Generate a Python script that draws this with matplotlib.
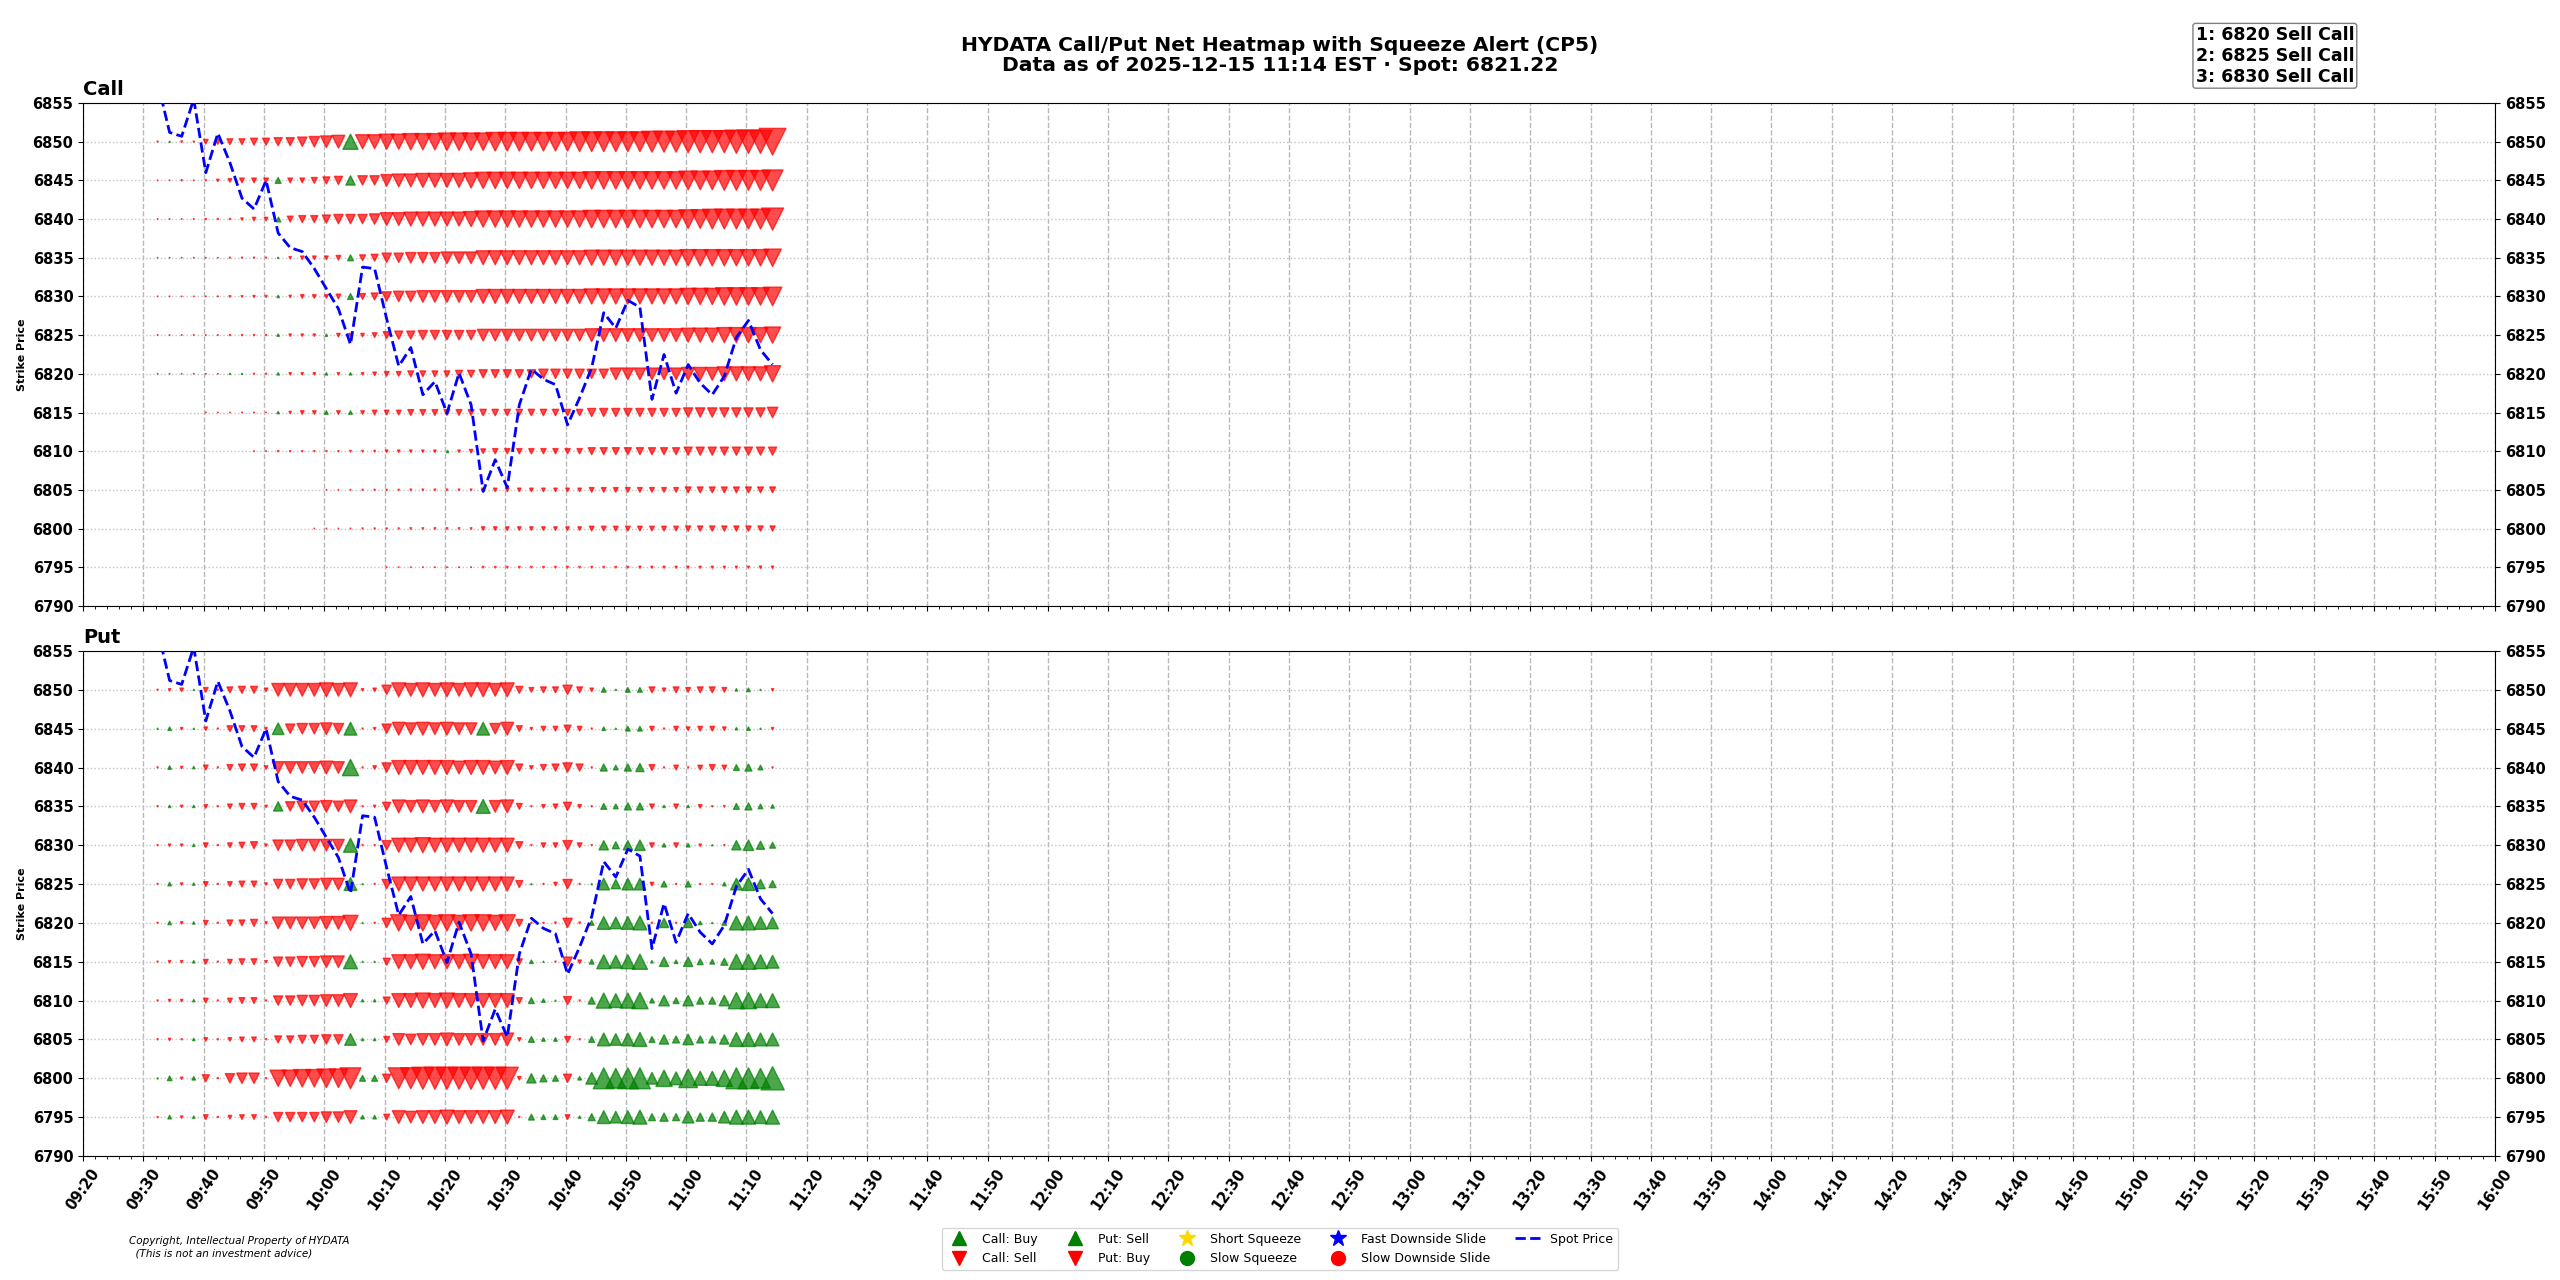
"""
HYDATA call/put net heatmap with spot price
"""
import matplotlib
matplotlib.use('Agg')
import matplotlib.pyplot as plt
import matplotlib.dates as mdates
from matplotlib.lines import Line2D
import numpy as np
import pandas as pd

plt.rcParams['font.family'] = ['DejaVu Sans']
plt.rcParams['font.weight'] = 'bold'

# ---- data -------------------------------------------------------------
times = pd.date_range('2025-12-15 09:32:20', periods=52, freq='2min')
strikes = [6850, 6845, 6840, 6835, 6830, 6825, 6820, 6815, 6810, 6805, 6800, 6795]

spot = [6857.7, 6851.2, 6850.7, 6855.5, 6846.0, 6851.1, 6847.3, 6842.7, 6841.3, 6845.0,
        6838.2, 6836.3, 6835.8, 6833.6, 6831.0, 6828.4, 6823.8, 6833.8, 6833.6, 6827.1,
        6821.0, 6823.4, 6817.3, 6819.0, 6814.9, 6820.1, 6816.0, 6804.8, 6808.9, 6805.3,
        6816.0, 6820.6, 6819.3, 6818.6, 6813.4, 6816.9, 6820.8, 6827.9, 6825.9, 6829.5,
        6828.6, 6816.7, 6822.5, 6817.5, 6821.2, 6818.8, 6817.3, 6819.7, 6824.7, 6826.9,
        6823.1, 6821.2]

# net flow per strike (positive = green up, negative = red down)
call_net = [
    [-1, 1, -2, -1, -16, -20, -25, -25, -36, -36, -49, -49, -64, -81, -100, -121, 169, -144, -144, -169,
     -169, -196, -196, -196, -225, -225, -225, -225, -256, -256, -256, -256, -256, -256, -256, -289, -289, -289, -289, -289,
     -289, -324, -324, -324, -361, -361, -361, -361, -400, -400, -400, -529],
    [-0.3, -0.3, -1, -0.3, -1, -4, -9, -16, -16, -16, 25, -16, -16, -25, -36, -49, 64, -64, -64, -100,
     -121, -121, -144, -144, -144, -144, -169, -196, -196, -196, -196, -196, -196, -196, -196, -196, -225, -225, -225, -225,
     -225, -225, -225, -225, -256, -256, -256, -289, -289, -289, -289, -324],
    [-0.3, -0.3, -0.3, -0.3, -1, -1, -1, -4, -9, -9, 16, -25, -36, -36, -49, -64, -64, -64, -81, -121,
     -121, -144, -144, -144, -144, -144, -169, -196, -196, -196, -196, -196, -196, -196, -196, -196, -225, -225, -225, -225,
     -225, -225, -225, -225, -256, -256, -289, -289, -289, -289, -289, -361],
    [-0.3, -0.3, -0.3, -0.3, -0.3, -0.3, -1, -1, -1, -1, 1, -4, -9, -9, -9, -16, 25, -25, -36, -64,
     -64, -81, -81, -81, -100, -100, -100, -144, -144, -144, -144, -144, -144, -144, -144, -144, -169, -169, -169, -169,
     -169, -169, -169, -169, -196, -196, -196, -196, -196, -196, -196, -225],
    [-0.3, -0.3, -0.3, -0.3, -0.3, -0.5, -2, -2, -3, -3, 4, -4, -9, -9, -9, -16, 25, -25, -36, -64,
     -81, -81, -100, -100, -100, -100, -100, -144, -144, -144, -144, -144, -144, -144, -144, -144, -169, -169, -169, -169,
     -169, -169, -169, -169, -196, -196, -196, -225, -225, -225, -225, -256],
    [-0.3, -0.3, -0.3, -0.3, -0.3, -0.3, -1, -1, -1, -1, 4, -4, -4, -4, 4, -9, -9, -9, -16, -36,
     -49, -49, -64, -64, -64, -64, -64, -100, -100, -100, -100, -100, -100, -100, -100, -100, -121, -121, -121, -121,
     -121, -121, -121, -121, -144, -144, -144, -169, -169, -169, -169, -196],
    [-0.3, -0.3, -0.3, -0.3, -0.3, -0.3, 1, 1, -1, -1, 4, -4, -4, -4, 4, -4, 4, -4, -9, -16,
     -16, -25, -25, -25, -25, -36, -36, -49, -49, -49, -49, -49, -64, -64, -64, -64, -64, -64, -100, -100,
     -100, -100, -100, -100, -121, -121, -121, -144, -144, -144, -144, -196],
    [0, 0, 0, 0, -0.3, -0.3, -0.3, -0.3, -0.3, -0.3, 4, -4, -9, -9, 9, -9, 9, -9, -16, -16,
     -16, -25, -25, -25, -25, -25, -25, -30, -30, -30, -30, -30, -30, -30, -30, -30, -49, -49, -49, -49,
     -49, -49, -49, -49, -64, -64, -64, -64, -64, -64, -64, -81],
    [0, 0, 0, 0, 0, 0, 0, 0, -0.3, -0.3, -1, -1, -1, -1, -1, -1, -2, -2, -2, -4,
     -4, -4, -4, -4, 4, -4, -9, -16, -20, -20, -20, -20, -20, -20, -20, -20, -36, -36, -36, -36,
     -36, -36, -36, -36, -49, -49, -49, -49, -49, -49, -49, -49],
    [0, 0, 0, 0, 0, 0, 0, 0, 0, 0, 0, 0, 0, 0, -0.3, -0.3, -0.5, -1, -1, -1,
     -1, -2, -2, -2, -2, -2, -2, -9, -9, -9, -9, -9, -9, -9, -9, -9, -16, -16, -16, -16,
     -16, -16, -16, -16, -25, -25, -25, -25, -25, -25, -25, -25],
    [0, 0, 0, 0, 0, 0, 0, 0, 0, 0, 0, 0, 0, -0.3, -0.3, -0.3, -0.5, -1, -1, -1,
     -1, -2, -2, -2, -2, -2, -2, -9, -9, -9, -9, -9, -9, -9, -9, -9, -16, -16, -16, -16,
     -16, -16, -16, -16, -20, -20, -20, -20, -20, -20, -20, -20],
    [0, 0, 0, 0, 0, 0, 0, 0, 0, 0, 0, 0, 0, 0, 0, 0, 0, 0, 0, -0.3,
     -0.3, -0.3, -0.3, -0.3, -0.3, -0.3, -0.3, -2, -2, -2, -2, -2, -2, -2, -2, -2, -2, -2, -2, -2,
     -3, -3, -3, -3, -3, -3, -3, -3, -3, -3, -4, -4],
]

put_net = [
    [-1, -4, -9, 1, -16, -1, -25, -36, -36, -9, -121, -121, -121, -121, -144, -121, -144, -4, -9, -64,
     -144, -121, -144, -121, -144, -121, -144, -144, -121, -144, -36, -16, -25, -25, -64, -25, -9, 16, 1, 16,
     16, -25, -9, -25, -16, -25, -25, -16, 4, 9, 1, -4],
    [1, 9, -4, 1, -9, -1, -25, -25, -25, -4, 100, -64, -81, -81, -100, -81, 121, -1, -4, -64,
     -121, -100, -121, -100, -121, -100, -100, 121, -81, -121, -25, -4, -16, -16, -36, -16, -1, 9, 1, 16,
     16, -16, -1, -16, -9, -16, -16, -9, 4, 9, 1, -4],
    [-1, 9, -4, 4, -16, -1, -25, -36, -36, -9, -100, -100, -100, -100, -121, -100, 196, -1, -9, -64,
     -144, -144, -144, -144, -144, -121, -144, -144, -121, -144, -36, -9, -25, -36, -64, -36, -1, 36, 16, 36,
     49, -25, -1, -16, -1, -16, -25, -16, 25, 36, 16, -1],
    [-1, 4, -4, 4, -9, -1, -16, -25, -25, -4, 64, -64, -81, -81, -100, -81, -121, -1, -4, -49,
     -121, -100, -121, -100, -121, -100, -100, 144, -100, -121, -25, -1, -9, -16, -49, -9, -1, 25, 16, 36,
     36, -16, 4, -16, 4, -9, -1, -2, 25, 36, 16, 9],
    [-1, -4, -4, 4, -16, -1, -16, -25, -36, -4, -81, -81, -100, -100, -100, -100, 144, -1, -1, -64,
     -144, -144, -169, -144, -144, -144, -144, -144, -144, -144, -36, -1, -16, -16, -64, -16, -1, 64, 36, 64,
     81, -16, 9, -16, 9, -4, 1, -1, 64, 81, 49, 25],
    [-1, 9, -4, 4, -16, -1, -16, -25, -25, -4, -64, -64, -81, -81, -100, -100, 121, 1, -1, -64,
     -144, -144, -144, -144, -144, -144, -144, -144, -144, -144, -36, 1, -1, -9, -64, -1, 1, 100, 64, 100,
     100, -9, 25, -1, 25, -1, -1, 9, 100, 121, 64, 36],
    [-1, 9, -4, 4, -16, -1, -25, -25, -36, -4, -100, -100, -100, -100, -121, -121, -169, 1, -1, -64,
     -196, -169, -196, -169, -196, -169, -196, -196, -169, -196, -36, -1, -1, -2, -64, -2, 16, 121, 100, 121,
     144, -1, 64, -1, 64, 9, 1, 16, 144, 144, 121, 100],
    [-1, -4, -4, 4, -16, -1, -16, -25, -25, -4, -64, -64, -81, -81, -100, -100, 144, 1, 1, -36,
     -144, -144, -169, -144, -144, -144, -169, -144, -144, -144, -25, 9, 1, -1, -64, -9, 16, 144, 121, 144,
     169, 4, 64, 9, 64, 25, 16, 36, 169, 169, 144, 121],
    [-1, -4, -4, 4, -16, -1, -16, -25, -25, -1, -64, -64, -81, -81, -100, -100, -144, 4, 4, -36,
     -144, -144, -169, -144, -169, -144, -144, -144, -144, -144, -25, 25, 9, 1, -49, -1, 36, 169, 144, 169,
     196, 16, 81, 25, 81, 36, 36, 81, 196, 196, 144, 144],
    [-1, -4, -1, 4, -9, -1, -9, -16, -16, -1, -36, -36, -49, -49, -64, -64, 100, 4, 4, -25,
     -100, -81, -100, -100, -121, -100, -100, -100, -100, -121, -9, 25, 9, 9, -25, -1, 25, 121, 100, 121,
     144, 25, 64, 36, 81, 36, 36, 64, 144, 144, 121, 121],
    [1, 16, -4, 9, -36, -1, -64, -81, -81, -1, -196, -196, -225, -225, -256, -256, -324, 25, 25, -49,
     -324, -324, -361, -361, -361, -361, -361, -361, -361, -361, -9, 64, 36, 25, -49, 9, 100, 324, 289, 324,
     324, 100, 196, 121, 256, 144, 144, 196, 324, 324, 289, 400],
    [-1, 9, -4, 4, -16, -1, -9, -16, -16, -1, -64, -64, -64, -64, -81, -81, -121, 9, 9, -25,
     -121, -100, -121, -121, -144, -121, -121, -121, -121, -144, -1, 25, 16, 16, -16, 4, 36, 121, 100, 121,
     144, 36, 49, 36, 100, 49, 49, 100, 144, 144, 121, 144],
]

alerts = '1: 6820 Sell Call\n2: 6825 Sell Call\n3: 6830 Sell Call'


def draw_panel(ax, rows, name):
    for strike, row in zip(strikes, rows):
        v = np.array(row, dtype=float)
        for mask, marker, color in [(v > 0, '^', 'green'), (v < 0, 'v', 'red')]:
            if not mask.any():
                continue
            ax.scatter(times[mask], np.full(mask.sum(), strike),
                       s=np.abs(v[mask]) * 0.7,
                       marker=marker, color=color, alpha=0.7, zorder=3)
    ax.plot(times, spot, color='blue', linestyle='--', linewidth=2, zorder=5)

    ax.set_xlim(pd.Timestamp('2025-12-15 09:20'), pd.Timestamp('2025-12-15 16:00'))
    ax.xaxis.set_major_locator(mdates.MinuteLocator(byminute=range(0, 60, 10)))
    ax.xaxis.set_minor_locator(mdates.MinuteLocator(byminute=range(0, 60, 2)))
    ax.xaxis.set_major_formatter(mdates.DateFormatter('%H:%M'))

    ax.set_ylim(6790, 6855)
    ax.set_yticks(range(6790, 6856, 5))
    ax.tick_params(axis='y', labelleft=True, labelright=True, right=True, labelsize=10.5)
    ax.grid(axis='x', which='major', linestyle='--', color='#b8b8b8', linewidth=1)
    ax.grid(axis='y', which='major', linestyle=':', color='#c4c4c4', linewidth=1)
    ax.set_ylabel('Strike Price', fontsize=8, fontweight='bold')
    ax.set_title(name, loc='left', fontsize=14, fontweight='bold')


fig = plt.figure(figsize=(25.6, 12.8), dpi=100)
ax1 = fig.add_axes([0.0325, 0.5266, 0.9421, 0.3929])
ax2 = fig.add_axes([0.0325, 0.0969, 0.9421, 0.3945], sharex=ax1)

draw_panel(ax1, call_net, 'Call')
draw_panel(ax2, put_net, 'Put')
ax1.tick_params(axis='x', labelbottom=False)
ax2.tick_params(axis='x', labelrotation=55, labelsize=10.5)

fig.suptitle('HYDATA Call/Put Net Heatmap with Squeeze Alert (CP5)\n'
             'Data as of 2025-12-15 11:14 EST · Spot: 6821.22',
             fontsize=14.6, fontweight='bold', y=0.972, linespacing=1.05)

fig.text(0.9196, 0.9797, alerts, ha='right', va='top', multialignment='left',
         fontsize=12.5, fontweight='bold',
         bbox=dict(boxstyle='round,pad=0.15', facecolor='white', edgecolor='gray'))

fig.text(0.0504, 0.034, 'Copyright, Intellectual Property of HYDATA\n  (This is not an investment advice)',
         fontsize=7.5, style='italic', fontweight='normal', ha='left', va='top')

handles = [
    Line2D([], [], marker='^', color='green', linestyle='None', markersize=10, label='Call: Buy'),
    Line2D([], [], marker='v', color='red', linestyle='None', markersize=10, label='Call: Sell'),
    Line2D([], [], marker='^', color='green', linestyle='None', markersize=10, label='Put: Sell'),
    Line2D([], [], marker='v', color='red', linestyle='None', markersize=10, label='Put: Buy'),
    Line2D([], [], marker='*', color='gold', linestyle='None', markersize=12, label='Short Squeeze'),
    Line2D([], [], marker='o', color='green', linestyle='None', markersize=10, label='Slow Squeeze'),
    Line2D([], [], marker='*', color='blue', linestyle='None', markersize=12, label='Fast Downside Slide'),
    Line2D([], [], marker='o', color='red', linestyle='None', markersize=10, label='Slow Downside Slide'),
    Line2D([], [], color='blue', linestyle='--', linewidth=2, label='Spot Price'),
]
fig.legend(handles=handles, loc='lower center', bbox_to_anchor=(0.5, 0.003), ncol=5,
           prop={'size': 9, 'weight': 'normal'})

fig.savefig('out.png', dpi=100, facecolor='white')
